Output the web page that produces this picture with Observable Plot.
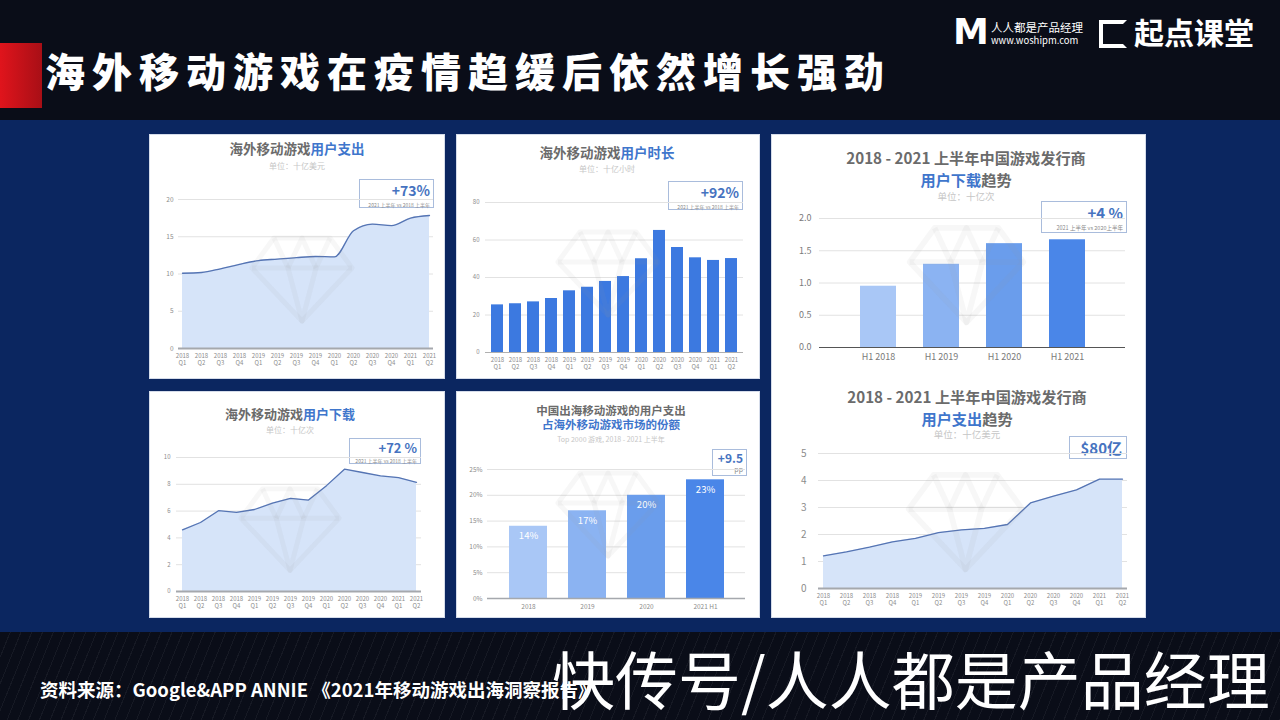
<!DOCTYPE html>
<html><head><meta charset="utf-8">
<script src="https://cdn.jsdelivr.net/npm/d3@7"></script>
<script src="https://cdn.jsdelivr.net/npm/@observablehq/plot@0.6"></script>
<style>
body{margin:0;width:1280px;height:720px;overflow:hidden;background:#0a0d18;font-family:"Noto Sans CJK SC","Noto Sans",sans-serif;position:relative}
.abs{position:absolute}
.band{position:absolute;left:0;top:120px;width:1280px;height:512px;background:#0b2660}
.foot{position:absolute;left:0;top:632px;width:1280px;height:88px;background:#0a0d18;background-image:repeating-linear-gradient(112deg,rgba(255,255,255,0) 0 9px,rgba(255,255,255,0.05) 9px 10px)}
.card{position:absolute;background:#fff;box-sizing:border-box;border:1px solid #d5dcea}
.t{position:absolute;font-weight:700;color:#6b6b6b;white-space:nowrap;transform:translateX(-50%);line-height:1;text-align:center}
.b{color:#3f76cc}
.sub{position:absolute;color:#c6c6c6;white-space:nowrap;transform:translateX(-50%);line-height:1}
.note{position:absolute;border:1px solid #a9bcdc;background:#fff;box-sizing:border-box;text-align:right;padding-right:3px;line-height:1}
.note .big{color:#4673c0;font-weight:700;display:block}
.note .sm{color:#8a8a8a;display:block;white-space:nowrap}
.gem{position:absolute;pointer-events:none}
</style></head>
<body>
<div class="band"></div>
<div class="foot"></div>
<div class="abs" style="left:0;top:43px;width:42px;height:65px;background:linear-gradient(90deg,#e0141c,#a80f16)"></div>
<div class="abs" style="left:45px;top:50px;font-size:40px;font-weight:900;color:#fff;letter-spacing:7px;line-height:1;white-space:nowrap">海外移动游戏在疫情趋缓后依然增长强劲</div>
<div class="abs" style="left:953px;top:14px;font-size:36px;font-weight:900;color:#fff;line-height:1;font-family:'DejaVu Sans'">M</div>
<div class="abs" style="left:991px;top:22px;font-size:11.5px;color:#fff;line-height:1;white-space:nowrap">人人都是产品经理</div>
<div class="abs" style="left:991px;top:36px;font-size:9.5px;color:#fff;line-height:1;white-space:nowrap">www.woshipm.com</div>
<div class="abs" style="left:1099px;top:20px;width:20px;height:20px;border:4px solid #fff;border-right-color:transparent"></div>
<div class="abs" style="left:1134px;top:16px;font-size:30px;font-weight:700;color:#fff;line-height:1;white-space:nowrap">起点课堂</div>

<div class="card" style="left:149px;top:134px;width:296px;height:245px"></div>
<div class="card" style="left:456px;top:134px;width:304px;height:245px"></div>
<div class="card" style="left:771px;top:134px;width:375px;height:484px"></div>
<div class="card" style="left:149px;top:391px;width:296px;height:227px"></div>
<div class="card" style="left:456px;top:391px;width:304px;height:227px"></div>

<div class="t" style="left:297px;top:142px;font-size:13.5px">海外移动游戏<span class="b">用户支出</span></div>
<div class="sub" style="left:297px;top:162px;font-size:8px">单位：十亿美元</div>
<div class="t" style="left:607px;top:146px;font-size:13.5px">海外移动游戏<span class="b">用户时长</span></div>
<div class="sub" style="left:607px;top:165px;font-size:8px">单位：十亿小时</div>
<div class="t" style="left:966px;top:146px;font-size:15.2px;line-height:22px">2018 - 2021 上半年中国游戏发行商<br><span class="b">用户下载</span>趋势</div>
<div class="sub" style="left:966px;top:192px;font-size:9.5px">单位：十亿次</div>
<div class="t" style="left:290px;top:407px;font-size:13px">海外移动游戏<span class="b">用户下载</span></div>
<div class="sub" style="left:290px;top:426px;font-size:8px">单位：十亿次</div>
<div class="t" style="left:611px;top:403px;font-size:11.5px;line-height:14px">中国出海移动游戏的用户支出<br><span class="b">占海外移动游戏市场的份额</span></div>
<div class="sub" style="left:611px;top:436px;font-size:7px">Top 2000 游戏, 2018 - 2021 上半年</div>
<div class="t" style="left:967px;top:385px;font-size:15.2px;line-height:22px">2018 - 2021 上半年中国游戏发行商<br><span class="b">用户支出</span>趋势</div>
<div class="sub" style="left:967px;top:430px;font-size:9.5px">单位：十亿美元</div>

<div class="note" style="left:359px;top:179px;width:75px;height:29px"><span class="big" style="font-size:14px;margin-top:3px">+73%</span><span class="sm" style="font-size:5px;margin-top:5px">2021 上半年 vs 2018 上半年</span></div>
<div class="note" style="left:668px;top:181px;width:75px;height:29px"><span class="big" style="font-size:14px;margin-top:3px">+92%</span><span class="sm" style="font-size:5px;margin-top:5px">2021 上半年 vs 2018 上半年</span></div>
<div class="note" style="left:1041px;top:201px;width:86px;height:32px"><span class="big" style="font-size:15px;margin-top:3px">+4 %</span><span class="sm" style="font-size:5.5px;margin-top:6px">2021 上半年 vs 2020上半年</span></div>
<div class="note" style="left:349px;top:438px;width:72px;height:26px"><span class="big" style="font-size:13px;margin-top:2px">+72 %</span><span class="sm" style="font-size:5px;margin-top:4px">2021 上半年 vs 2018 上半年</span></div>
<div class="note" style="left:712px;top:449px;width:35px;height:27px"><span class="big" style="font-size:12px;margin-top:2px">+9.5</span><span class="sm" style="font-size:7px;margin-top:2px">pp</span></div>
<div class="note" style="left:1069px;top:436px;width:58px;height:23px;padding-right:4px"><span class="big" style="font-size:15px;margin-top:3px">$80亿</span></div>

<div class="abs" style="left:40px;top:680px;font-size:18.5px;font-weight:700;color:#fff;line-height:1;white-space:nowrap">资料来源：Google&amp;APP ANNIE 《2021年移动游戏出海洞察报告》</div>
<div class="abs" style="left:552px;top:645px;font-size:63px;color:#fff;line-height:1;white-space:nowrap;letter-spacing:0">快传号/人人都是产品经理</div>

<script>
// ---- data ----
const quarterLabels = ["2018\nQ1","2018\nQ2","2018\nQ3","2018\nQ4","2019\nQ1","2019\nQ2","2019\nQ3","2019\nQ4","2020\nQ1","2020\nQ2","2020\nQ3","2020\nQ4","2021\nQ1","2021\nQ2"];
const spendOverseas = [10.1,10.2,10.7,11.3,11.8,12.0,12.2,12.35,12.3,15.8,16.7,16.5,17.5,17.85];
const hoursOverseas = [25.4,26.0,27.0,28.8,32.9,34.8,37.9,40.5,50.0,65.1,56.0,50.5,49.1,50.1];
const downloadsOverseas = [4.6,5.15,6.03,5.9,6.12,6.6,6.95,6.82,7.9,9.13,8.88,8.63,8.5,8.14];
const halfLabels = ["H1 2018","H1 2019","H1 2020","H1 2021"];
const cnDownloads = [0.95,1.29,1.61,1.67];
const shareLabels = ["2018","2019","2020","2021 H1"];
const cnShare = [14,17,20,23];
const cnSpend = [1.21,1.36,1.53,1.73,1.86,2.07,2.17,2.23,2.37,3.17,3.42,3.65,4.05,4.05];
const blueShades = ["#a9c7f6","#8bb3f2","#6a9dec","#4a86e8"];

const FONT = '"Noto Sans CJK SC","Noto Sans",sans-serif';
function place(fig, left, top){
  const d = document.createElement("div");
  d.className = "abs"; d.style.left = left+"px"; d.style.top = top+"px";
  d.appendChild(fig); document.body.appendChild(d);
}
function quarterAxis(){
  return Plot.axisX({tickSize:0, tickPadding:4, lineHeight:1.25, fontSize:6, fill:"#8c8c8c", label:null});
}
function lineChart(values, o){
  const rows = quarterLabels.map((q,i)=>({q, v: values[i]}));
  return Plot.plot({
    width:o.w, height:o.h, marginLeft:o.ml, marginRight:o.mr, marginTop:o.mt, marginBottom:o.mb,
    style:{background:"transparent", fontSize:"6.5px", color:"#8c8c8c", fontFamily:FONT},
    x:{type:"point", domain:quarterLabels, padding:0},
    y:{domain:[0,o.ymax]},
    marks:[
      Plot.ruleY(o.ticks, {stroke:"#e2e2e2", strokeWidth:1}),
      Plot.areaY(rows, {x:"q", y:"v", fill:"#d6e4f9", curve:o.curve}),
      Plot.lineY(rows, {x:"q", y:"v", stroke:"#5574b3", strokeWidth:1.3, curve:o.curve}),
      Plot.ruleY([0], {stroke:"#a5a8ad", strokeWidth:2}),
      quarterAxis(),
      Plot.axisY({ticks:o.ticks, tickSize:0, tickPadding:o.ypad, tickFormat:d=>String(d), fontSize:o.yfs, label:null, fill:"#8c8c8c"})
    ]
  });
}

// chart 1: overseas spend
const c1 = lineChart(spendOverseas, {w:296,h:186,ml:29,mr:12,mt:9,mb:28,ypad:5,yfs:6.5,ymax:20,ticks:[0,5,10,15,20],curve:"monotone-x"});
place(c1, 149, 190);

// chart 2: overseas hours (bars)
{
  const rows = quarterLabels.map((q,i)=>({q, v: hoursOverseas[i]}));
  const ticks = [0,20,40,60,80];
  const fig = Plot.plot({
    width:304, height:180, marginLeft:29, marginRight:17, marginTop:7, marginBottom:23,
    style:{background:"transparent", fontSize:"6.5px", color:"#8c8c8c", fontFamily:FONT},
    x:{type:"band", domain:quarterLabels, paddingInner:0.34, paddingOuter:0.22},
    y:{domain:[0,80]},
    marks:[
      Plot.ruleY(ticks, {stroke:"#e2e2e2"}),
      Plot.barY(rows, {x:"q", y:"v", fill:"#3c79e0"}),
      Plot.ruleY([0], {stroke:"#b0b0b0", strokeWidth:1}),
      quarterAxis(),
      Plot.axisY({ticks, tickSize:0, tickPadding:6, fontSize:6, label:null, fill:"#8c8c8c"})
    ]
  });
  place(fig, 456, 195);
}

// chart 3: CN publisher downloads
{
  const rows = halfLabels.map((h,i)=>({h, v: cnDownloads[i], c: blueShades[i]}));
  const ticks = [0,0.5,1,1.5,2];
  const fig = Plot.plot({
    width:373, height:162, marginLeft:47, marginRight:20, marginTop:10, marginBottom:23,
    style:{background:"transparent", fontSize:"9px", color:"#7a7a7a", fontFamily:FONT},
    x:{type:"band", domain:halfLabels, paddingInner:0.43, paddingOuter:0.63, label:null, tickSize:0, tickPadding:6},
    y:{domain:[0,2], ticks, label:null, tickSize:0, tickPadding:8, tickFormat:d3.format(".1f")},
    marks:[
      Plot.ruleY(ticks, {stroke:"#e2e2e2"}),
      Plot.barY(rows, {x:"h", y:"v", fill:"c"}),
      Plot.ruleY([0], {stroke:"#555", strokeWidth:1})
    ]
  });
  place(fig, 772, 208);
}

// chart 4: overseas downloads
const c4 = lineChart(downloadsOverseas, {w:296,h:170,ml:27,mr:24,mt:10,mb:26,ypad:6,yfs:6,ymax:10,ticks:[0,2,4,6,8,10],curve:"linear"});
place(c4, 149, 447);

// chart 5: CN share
{
  const rows = shareLabels.map((s,i)=>({s, v: cnShare[i], c: blueShades[i]}));
  const ticks = [0,5,10,15,20,25];
  const fig = Plot.plot({
    width:304, height:157, marginLeft:31, marginRight:15, marginTop:9, marginBottom:19,
    style:{background:"transparent", fontSize:"6.5px", color:"#8c8c8c", fontFamily:FONT},
    x:{type:"band", domain:shareLabels, paddingInner:0.36, paddingOuter:0.34, label:null, tickSize:0, tickPadding:6},
    y:{domain:[0,25], ticks, label:null, tickSize:0, tickPadding:5, tickFormat:d=>d+"%"},
    marks:[
      Plot.ruleY(ticks, {stroke:"#e2e2e2"}),
      Plot.barY(rows, {x:"s", y:"v", fill:"c"}),
      Plot.text(rows, {x:"s", y:"v", text:d=>d.v+"%", dy:10, fill:"#fff", fontSize:9.5, fontWeight:400}),
      Plot.ruleY([0], {stroke:"#a5a8ad", strokeWidth:1.5})
    ]
  });
  place(fig, 456, 460);
}

// chart 6: CN publisher spend
const c6 = lineChart(cnSpend, {w:373,h:174,ml:46,mr:18,mt:10,mb:29,ypad:12,yfs:10,ymax:5,ticks:[0,1,2,3,4,5],curve:"linear"});
place(c6, 772, 443);

// faint diamond watermarks (decoration)
function gem(cx, cy, w){
  const h = w*0.86;
  const ns = "http://www.w3.org/2000/svg";
  const s = document.createElementNS(ns, "svg");
  s.setAttribute("class","gem"); s.setAttribute("width", w+8); s.setAttribute("height", h+8);
  s.style.left = (cx - w/2 - 4)+"px"; s.style.top = (cy - h/2 - 4)+"px";
  s.setAttribute("viewBox", "-54 -47 108 94");
  s.innerHTML = '<g fill="none" stroke="#9a9a9a" stroke-opacity="0.08" stroke-width="5" stroke-linejoin="round">'+
    '<polygon points="-28,-40 28,-40 50,-10 0,43 -50,-10"/>'+
    '<polyline points="-50,-10 50,-10"/>'+
    '<polyline points="-28,-40 -14,-10 0,43 14,-10 28,-40"/>'+
    '<polyline points="-14,-10 0,-40 14,-10"/></g>';
  document.body.appendChild(s);
}
gem(302, 278, 100);
gem(608, 272, 100);
gem(966, 273, 115);
gem(290, 528, 98);
gem(608, 513, 100);
gem(965, 520, 115);
</script>
</body></html>
